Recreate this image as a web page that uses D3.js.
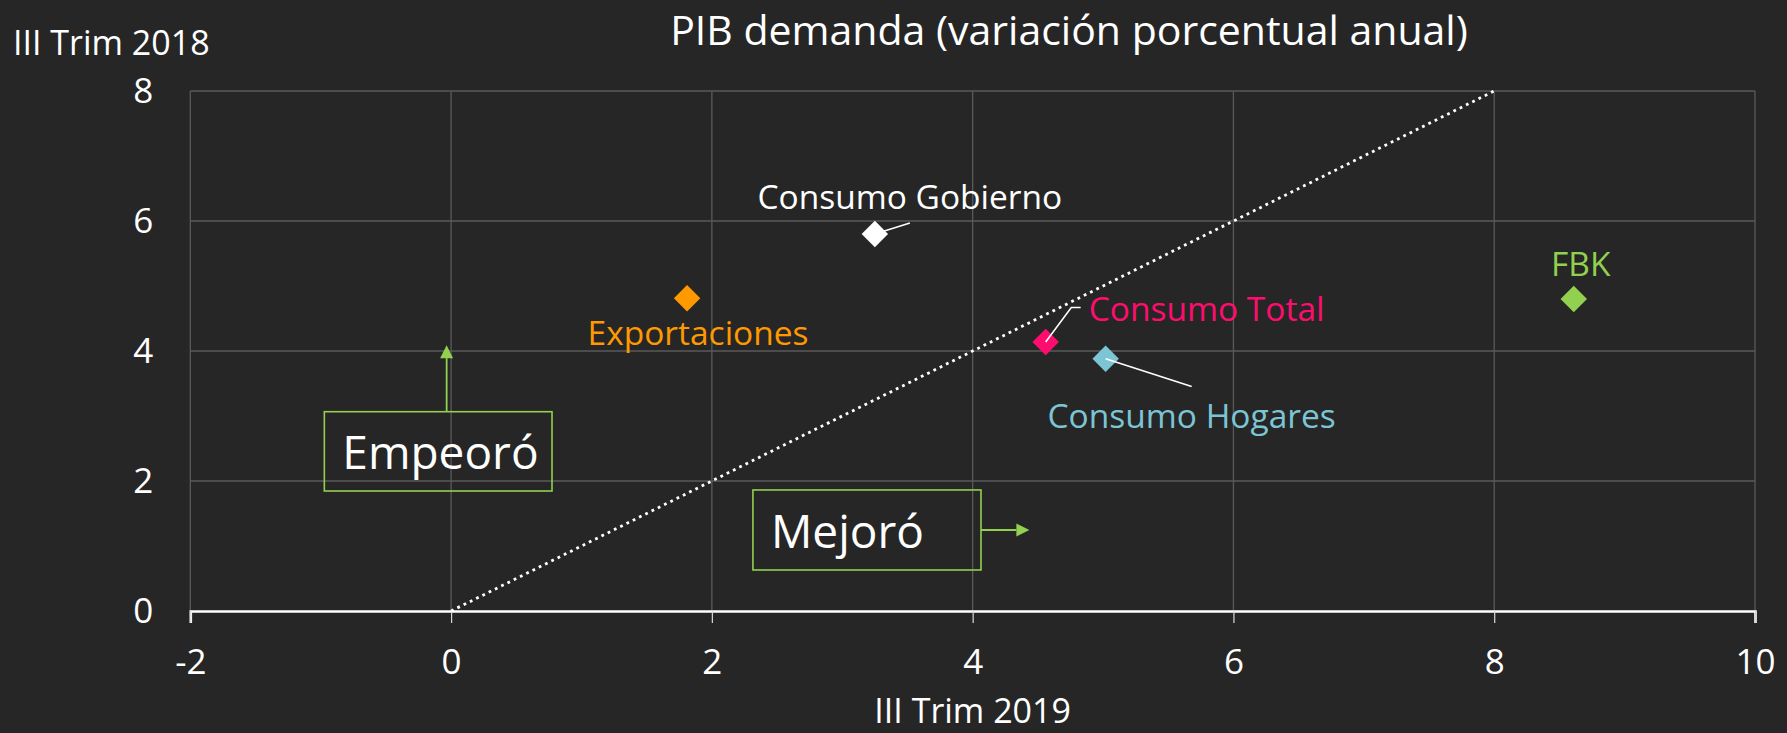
<!DOCTYPE html>
<html>
<head>
<meta charset="utf-8">
<script src="https://cdn.jsdelivr.net/npm/d3@7"></script>
<style>
  html, body { margin: 0; padding: 0; background: #262626; }
  svg { display: block; }
  text { font-family: "Open Sans", "Noto Sans", sans-serif; }
</style>
</head>
<body>
<svg id="chart" width="1787" height="733"></svg>
<script>
// ---- Data ----
const categories = ["Consumo Gobierno", "Exportaciones", "Consumo Total", "Consumo Hogares", "FBK"];
const trim2019 = [3.25, 1.81, 4.56, 5.02, 8.61];   // x: III Trim 2019
const trim2018 = [5.80, 4.81, 4.14, 3.88, 4.80];   // y: III Trim 2018
const xTicks = [-2, 0, 2, 4, 6, 8, 10];
const yTicks = [0, 2, 4, 6, 8];
const diagonal = [[0, 0], [8, 8]];
const title = "PIB demanda (variación porcentual anual)";
const xTitle = "III Trim 2019";
const yTitle = "III Trim 2018";
const noteLabels = ["Empeoró", "Mejoró"];

// ---- Styles / layout ----
const colors = {
  "Consumo Gobierno": "#FFFFFF",
  "Exportaciones": "#FF9900",
  "Consumo Total": "#FF0D6E",
  "Consumo Hogares": "#7CC5D4",
  "FBK": "#92D050"
};
// label placement relative to marker (pixels)
const labelCfg = {
  "Consumo Gobierno": { dx: 35, dy: -25, anchor: "middle", leader: [[0, 0], [35, -11]] },
  "Exportaciones":    { dx: 11, dy: 47, anchor: "middle", leader: null },
  "Consumo Total":    { dx: 43, dy: -21, anchor: "start", leader: [[0, 0], [25.6, -34.4], [35, -34.4]] },
  "Consumo Hogares":  { dx: 86, dy: 69, anchor: "middle", leader: [[0, 0], [86, 27.7]] },
  "FBK":              { dx: 7, dy: -23, anchor: "middle", leader: null }
};
// annotation boxes in data units
const notes = [
  { text: noteLabels[0], x0: -0.972, x1: 0.774, y0: 3.066, y1: 1.846, arrow: { from: [-0.034, 3.066], to: [-0.034, 4.09] } },
  { text: noteLabels[1], x0: 2.315, x1: 4.064, y0: 1.862, y1: 0.631, arrow: { from: [4.064, 1.246], to: [4.435, 1.246] } }
];

const svg = d3.select("#chart");
const W = 1787, H = 733;
svg.append("rect").attr("width", W).attr("height", H).attr("fill", "#262626");

const x = d3.scaleLinear().domain([-2, 10]).range([190.3, 1755]);
const y = d3.scaleLinear().domain([0, 8]).range([611, 91]);

// gridlines
const grid = svg.append("g");
grid.selectAll("line.v").data(xTicks).join("line")
  .attr("x1", d => x(d)).attr("x2", d => x(d))
  .attr("y1", y(8)).attr("y2", y(0))
  .attr("stroke", "#5A5A5A").attr("stroke-width", 1.3);
grid.selectAll("line.h").data(yTicks.filter(d => d !== 0)).join("line")
  .attr("x1", x(-2)).attr("x2", x(10))
  .attr("y1", d => y(d)).attr("y2", d => y(d))
  .attr("stroke", "#5A5A5A").attr("stroke-width", 1.3);

// x axis
const xAxis = svg.append("g").attr("transform", `translate(0,${y(0)})`)
  .call(d3.axisBottom(x).tickValues(xTicks).tickSize(12).tickPadding(26).tickFormat(d3.format("d")));
xAxis.select(".domain").attr("stroke", "#FFFFFF").attr("stroke-width", 2.6);
xAxis.selectAll(".tick line").attr("stroke", "#D9D9D9").attr("stroke-width", 1.2);
xAxis.selectAll(".tick text").attr("fill", "#FFFFFF").attr("font-size", 35)
  .attr("font-family", "Open Sans").text(d => d < 0 ? "-" + Math.abs(d) : d);

// y axis (labels only)
const yAxis = svg.append("g").attr("transform", `translate(${x(-2)},0)`)
  .call(d3.axisLeft(y).tickValues(yTicks).tickSize(0).tickPadding(37).tickFormat(d3.format("d")));
yAxis.select(".domain").remove();
yAxis.selectAll(".tick text").attr("fill", "#FFFFFF").attr("font-size", 35).attr("font-family", "Open Sans");

// diagonal dotted line
svg.append("path")
  .attr("d", d3.line().x(d => x(d[0])).y(d => y(d[1]))(diagonal))
  .attr("stroke", "#FFFFFF").attr("stroke-width", 2.8)
  .attr("stroke-dasharray", "2.8,4.2").attr("fill", "none");

// annotation boxes
const green = "#92D050";
const ng = svg.append("g");
notes.forEach(n => {
  ng.append("rect")
    .attr("x", x(n.x0)).attr("y", y(n.y0))
    .attr("width", x(n.x1) - x(n.x0)).attr("height", y(n.y1) - y(n.y0))
    .attr("fill", "none").attr("stroke", green).attr("stroke-width", 1.6);
  ng.append("text")
    .attr("x", x(n.x0) + 18).attr("y", y(n.y1) - 22)
    .attr("fill", "#FFFFFF").attr("font-size", 46).text(n.text);
  const fx = x(n.arrow.from[0]), fy = y(n.arrow.from[1]);
  const tx = x(n.arrow.to[0]), ty = y(n.arrow.to[1]);
  const ang = Math.atan2(ty - fy, tx - fx);
  const hl = 13, hw = 6.5;
  const bx = tx - hl * Math.cos(ang), by = ty - hl * Math.sin(ang);
  ng.append("line").attr("x1", fx).attr("y1", fy).attr("x2", bx).attr("y2", by)
    .attr("stroke", green).attr("stroke-width", 1.8);
  ng.append("path")
    .attr("d", `M${tx},${ty} L${bx - hw * Math.sin(ang)},${by + hw * Math.cos(ang)} L${bx + hw * Math.sin(ang)},${by - hw * Math.cos(ang)} Z`)
    .attr("fill", green);
});

// points
const pts = categories.map((c, i) => ({ name: c, x: trim2019[i], y: trim2018[i] }));
svg.append("g").selectAll("path").data(pts).join("path")
  .attr("d", d3.symbol(d3.symbolSquare, 350))
  .attr("transform", d => `translate(${x(d.x)},${y(d.y)}) rotate(45)`)
  .attr("fill", d => colors[d.name]);

// leader lines
svg.append("g").selectAll("path").data(pts.filter(d => labelCfg[d.name].leader)).join("path")
  .attr("d", d => d3.line()(labelCfg[d.name].leader.map(p => [x(d.x) + p[0], y(d.y) + p[1]])))
  .attr("stroke", "#FFFFFF").attr("stroke-width", 1.6).attr("fill", "none");

// labels
svg.append("g").selectAll("text").data(pts).join("text")
  .attr("x", d => x(d.x) + labelCfg[d.name].dx)
  .attr("y", d => y(d.y) + labelCfg[d.name].dy)
  .attr("text-anchor", d => labelCfg[d.name].anchor)
  .attr("fill", d => colors[d.name])
  .attr("font-size", 33.5)
  .text(d => d.name);

// titles
svg.append("text").attr("x", 1069).attr("y", 45).attr("text-anchor", "middle")
  .attr("fill", "#FFFFFF").attr("font-size", 41).text(title);
svg.append("text").attr("x", 13).attr("y", 55)
  .attr("fill", "#FFFFFF").attr("font-size", 34).text(yTitle);
svg.append("text").attr("x", (x(-2) + x(10)) / 2).attr("y", 723).attr("text-anchor", "middle")
  .attr("fill", "#FFFFFF").attr("font-size", 34).text(xTitle);
</script>
</body>
</html>
